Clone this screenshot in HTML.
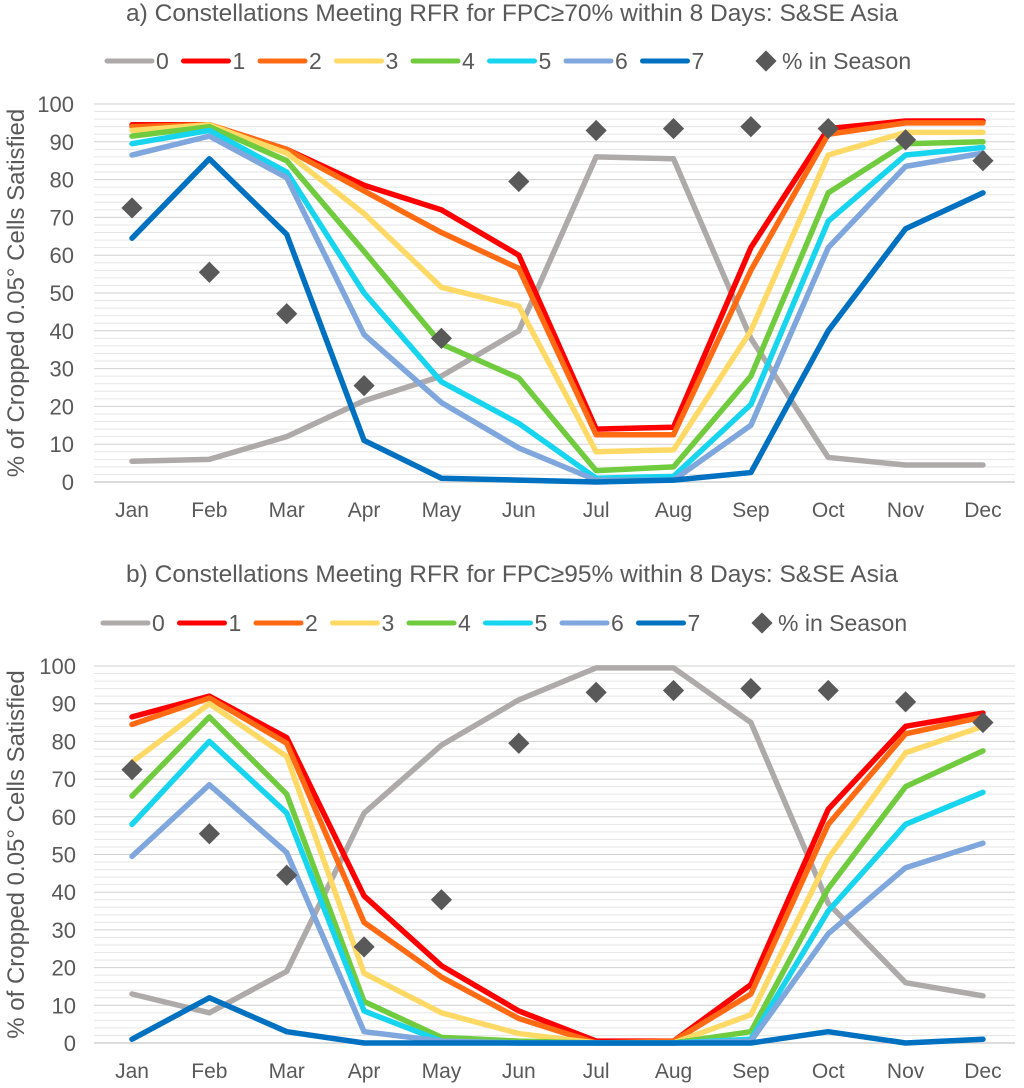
<!DOCTYPE html>
<html><head><meta charset="utf-8"><style>
body{margin:0;background:#fff;}
svg text{font-family:"Liberation Sans",sans-serif;}
</style></head><body>
<svg id="s" width="1024" height="1083"></svg>
<script>
const months=["Jan","Feb","Mar","Apr","May","Jun","Jul","Aug","Sep","Oct","Nov","Dec"];
const seriesNames=["0","1","2","3","4","5","6","7"];
const colors=["#aeaaaa","#ff0000","#ff6a13","#ffd966","#70cc3e","#17d4ef","#7fa7dd","#0070c0"];
const yTicks=[0,10,20,30,40,50,60,70,80,90,100];
const seasonPct=[72.5,55.5,44.5,25.5,38,79.5,93,93.5,94,93.5,90.5,85];
const a0=[5.5,6,12,21.5,28,40,86,85.5,38,6.5,4.5,4.5];
const a1=[94.5,94.5,88,78.5,72,60,14,14.5,62,93.5,95.5,95.5];
const a2=[94,94.5,88,77,66,56.5,12.5,12.5,56,92,95,95];
const a3=[93,94.5,87,71,51.5,46.5,8,8.5,40,86.5,92.5,92.5];
const a4=[91.5,94,85,61,36.5,27.5,3,4,28,76.5,89.5,90];
const a5=[89.5,93,82,50,26.5,15.5,1,1.5,20.5,69,86.5,88.5];
const a6=[86.5,91.5,80.5,39,21,9,0.5,0.5,15,62,83.5,87];
const a7=[64.5,85.5,65.5,11,1,0.5,0,0.5,2.5,40,67,76.5];
const b0=[13,8,19,61,79,91,99.5,99.5,85,37,16,12.5];
const b1=[86.5,92,81,39,20.5,8.5,0.5,0.5,15.5,62,84,87.5];
const b2=[84.5,91.5,79.5,32,17.5,6.5,0,0.5,13,58,82,86.5];
const b3=[74.5,90,76,18.5,8,2.5,0,0,7.5,49,77,84];
const b4=[65.5,86.5,66,11,1.5,0.5,0,0,3,41,68,77.5];
const b5=[58,80,61,8.5,0.5,0,0,0,1,35,58,66.5];
const b6=[49.5,68.5,50.5,3,0.5,0,0,0,0.5,29,46.5,53];
const b7=[1,12,3,0,0,0,0,0,0,3,0,1];

const svg=document.getElementById('s');
const NS="http://www.w3.org/2000/svg";
function mk(tag,attrs,parent){const e=document.createElementNS(NS,tag);for(const k in attrs)e.setAttribute(k,attrs[k]);(parent||svg).appendChild(e);return e;}

function chart(title,data,top,ly,y100,y0,legX,tickX,prefix){
  const g=mk('g',{});
  
  
  const x=i=>132+i*77.36;
  const y=v=>y0-(v/100)*(y0-y100);
  const t=mk('text',{x:512,y:top,'text-anchor':'middle','font-size':24.5,fill:'#595959'},g);
  t.textContent=title;
  
  
  for(let v=0;v<=100;v+=2){
    const l=mk('line',{x1:94,x2:1015,y1:y(v),y2:y(v),stroke:v%10==0?'#d0d0d0':'#e6e6e6','stroke-width':v==0?1.5:1},g);
    
    
  }
  yTicks.forEach(v=>{
    const tt=mk('text',{x:tickX,y:y(v)+8,'text-anchor':'end','font-size':22,fill:'#595959'},g);
    tt.textContent=v;
    
    
  });
  months.forEach((m,i)=>{
    const tt=mk('text',{x:x(i),y:y0+35,'text-anchor':'middle','font-size':21,fill:'#595959'},g);
    tt.textContent=m;
    
    
  });
  const yc=(y100+y0)/2;
  const yt=mk('text',{x:0,y:0,transform:`translate(24,${yc}) rotate(-90)`,'text-anchor':'middle','font-size':24,fill:'#595959'},g);
  yt.textContent="% of Cropped 0.05° Cells Satisfied";
  
  
  data.forEach((d,si)=>{
    const p=mk('polyline',{points:d.map((v,i)=>x(i)+','+y(v)).join(' '),fill:'none',stroke:colors[si],'stroke-width':5.5,'stroke-linejoin':'round','stroke-linecap':'round'},g);
    
    
  });
  seasonPct.forEach((v,i)=>{
    const r=mk('rect',{x:x(i)-7.5,y:y(v)-7.5,width:15,height:15,fill:'#595959',transform:`rotate(45 ${x(i)} ${y(v)})`},g);
    
    
  });
  seriesNames.forEach((n,si)=>{
    const lx=legX+si*76.5;
    const l=mk('line',{x1:lx,x2:lx+45,y1:ly,y2:ly,stroke:colors[si],'stroke-width':5,'stroke-linecap':'round'},g);
    
    
    const tt=mk('text',{x:lx+49,y:ly+8,'font-size':23,fill:'#595959'},g);
    tt.textContent=n;
    
    
  });
  const dx=legX+659;
  const dm=mk('rect',{x:dx-7.5,y:ly-7.5,width:15,height:15,fill:'#595959',transform:`rotate(45 ${dx} ${ly})`},g);
  
  
  const st=mk('text',{x:dx+16,y:ly+8,'font-size':23,fill:'#595959'},g);
  st.textContent="% in Season";
  
  
}
chart("a) Constellations Meeting RFR for FPC≥70% within 8 Days: S&SE Asia",[a0,a1,a2,a3,a4,a5,a6,a7],21,61,104,482,107,74,'panel-a');
chart("b) Constellations Meeting RFR for FPC≥95% within 8 Days: S&SE Asia",[b0,b1,b2,b3,b4,b5,b6,b7],582,623,666,1043,103,76,'panel-b');
</script>
</body></html>
